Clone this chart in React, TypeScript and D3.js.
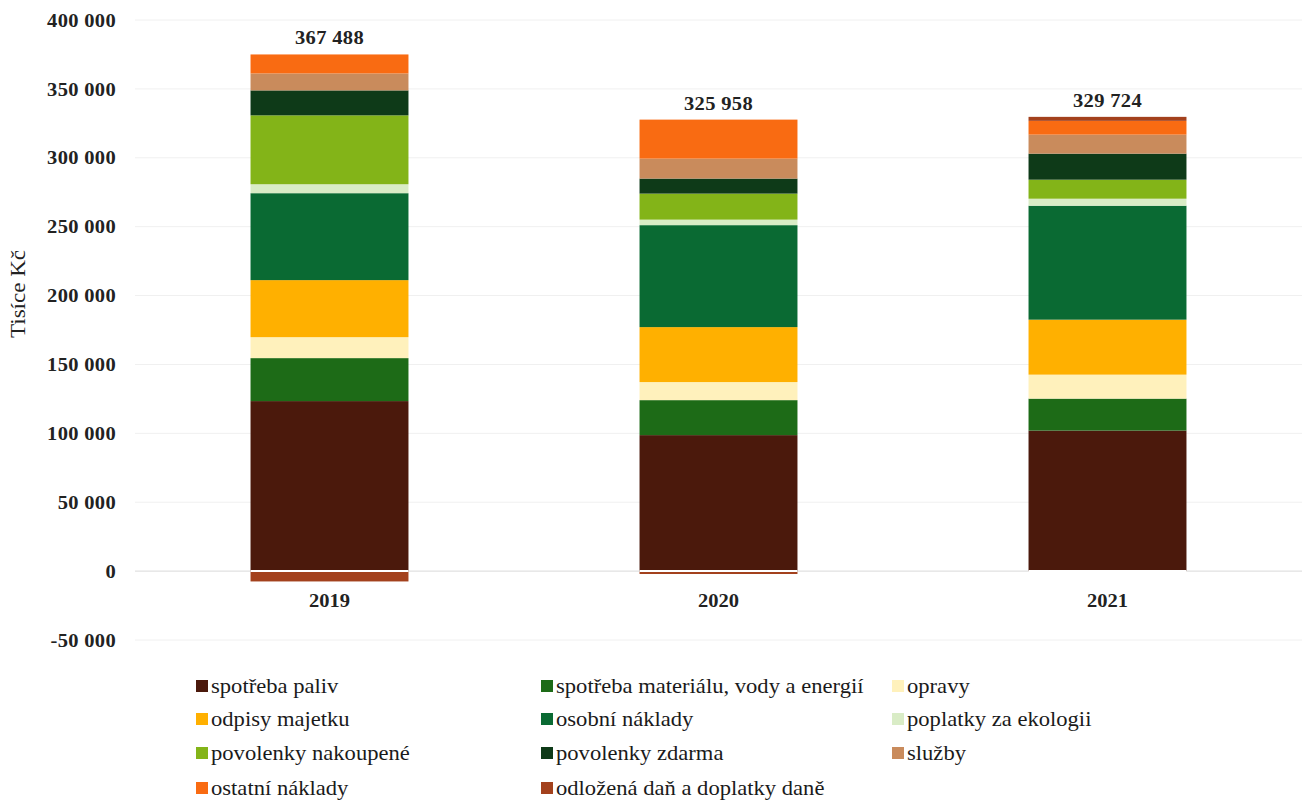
import React from "react";
import * as d3 from "d3";

const years = ["2019", "2020", "2021"];
const seriesNames = [
  "spotřeba paliv",
  "spotřeba materiálu, vody a energií",
  "opravy",
  "odpisy majetku",
  "osobní náklady",
  "poplatky za ekologii",
  "povolenky nakoupené",
  "povolenky zdarma",
  "služby",
  "ostatní náklady",
  "odložená daň a doplatky daně",
];
const seriesColors = [
  "#4b190c",
  "#1d6b17",
  "#fff1bc",
  "#ffb000",
  "#0a6a33",
  "#d9ecc6",
  "#83b418",
  "#0e3a18",
  "#c98b5c",
  "#f96b12",
  "#a3411d",
];
const spotrebaPaliv = [123400, 98700, 102000];
const spotrebaMaterialu = [31200, 25400, 23200];
const opravy = [15200, 13100, 17400];
const odpisyMajetku = [41400, 39900, 39900];
const osobniNaklady = [63100, 74000, 82700];
const poplatkyZaEkologii = [6500, 4000, 5100];
const povolenkyNakoupene = [50000, 18900, 13800];
const povolenkyZdarma = [18100, 10900, 18900];
const sluzby = [12300, 14500, 13800];
const ostatniNaklady = [13800, 28300, 10000];
const odlozenaDan = [-7500, -2100, 2900];
const totalLabels = ["367 488", "325 958", "329 724"];
const tickValues = [-50000, 0, 50000, 100000, 150000, 200000, 250000, 300000, 350000, 400000];

const allSeries = [
  spotrebaPaliv,
  spotrebaMaterialu,
  opravy,
  odpisyMajetku,
  osobniNaklady,
  poplatkyZaEkologii,
  povolenkyNakoupene,
  povolenkyZdarma,
  sluzby,
  ostatniNaklady,
  odlozenaDan,
];

const W = 1306;
const H = 802;
const FONT = "Liberation Serif, Times New Roman, serif";

export default function App() {
  const rows = years.map((y, i) => {
    const r: Record<string, number | string> = { year: y };
    seriesNames.forEach((s, k) => (r[s] = allSeries[k][i]));
    return r;
  });
  const stack = d3
    .stack<Record<string, number | string>>()
    .keys(seriesNames)
    .value((d, k) => d[k] as number)
    .offset(d3.stackOffsetDiverging);
  const layers = stack(rows);

  const x = d3.scaleBand<string>().domain(years).range([135, 1302]).paddingInner(0.594).paddingOuter(0.297);
  const y = d3.scaleLinear().domain([-50000, 400000]).range([640, 20]);
  const fmt = (v: number) => d3.format(",")(v).replace(/,/g, " ").replace("−", "-");

  const tops = years.map((_, i) => d3.max(layers, (l) => l[i][1]) as number);

  const legendCols = [202, 547, 898];
  const legendRows = [686, 719, 753, 788];

  return (
    <svg
      width={W}
      height={H}
      style={{ position: "absolute", left: 0, top: 0, background: "#fff", fontFamily: FONT }}
    >
      <rect width={W} height={H} fill="#fff" />
      {tickValues.map((t) => (
        <g key={t}>
          <line x1={135} x2={1302} y1={y(t)} y2={y(t)} stroke={t === 0 ? "#d9d9d9" : "#f0f0f0"} strokeWidth={1} />
          <text
            transform={`translate(116,${y(t)}) scale(1.08,1)`}
            dy="0.35em"
            textAnchor="end"
            style={{ fontFamily: FONT, fontWeight: "bold", fontSize: 19, letterSpacing: "0.3px" }}
            fill="#222"
          >
            {fmt(t)}
          </text>
        </g>
      ))}
      <text
        transform={`translate(25,294) rotate(-90) scale(1.15,1)`}
        textAnchor="middle"
        style={{ fontFamily: FONT, fontSize: 20 }}
        fill="#222"
      >
        Tisíce Kč
      </text>
      {layers.map((layer, k) => (
        <g key={layer.key} fill={seriesColors[k]}>
          {layer.map((d, i) => {
            const y0 = y(d[0]);
            const y1 = y(d[1]);
            return (
              <rect
                key={i}
                x={x(years[i])}
                width={x.bandwidth()}
                y={Math.min(y0, y1)}
                height={Math.abs(y0 - y1)}
              />
            );
          })}
        </g>
      ))}
      {years.map((yr, i) => (
        <g key={yr}>
          <line
            x1={x(yr)}
            x2={(x(yr) as number) + x.bandwidth()}
            y1={y(0)}
            y2={y(0)}
            stroke="#ffffff"
            strokeWidth={2}
          />
          <text
            transform={`translate(${(x(yr) as number) + x.bandwidth() / 2},${y(tops[i]) - 10}) scale(1.08,1)`}
            textAnchor="middle"
            style={{ fontFamily: FONT, fontWeight: "bold", fontSize: 19, letterSpacing: "0.3px" }}
            fill="#222"
          >
            {totalLabels[i]}
          </text>
          <text
            transform={`translate(${(x(yr) as number) + x.bandwidth() / 2},607) scale(1.08,1)`}
            textAnchor="middle"
            style={{ fontFamily: FONT, fontWeight: "bold", fontSize: 19 }}
            fill="#222"
          >
            {yr}
          </text>
        </g>
      ))}
      {seriesNames.map((s, k) => {
        const cx = legendCols[k % 3];
        const cy = legendRows[Math.floor(k / 3)];
        return (
          <g key={s}>
            <rect x={cx - 6} y={cy - 6} width={12} height={12} fill={seriesColors[k]} />
            <text
              transform={`translate(${cx + 9},${cy}) scale(1.13,1)`}
              dy="0.35em"
              style={{ fontFamily: FONT, fontSize: 20 }}
              fill="#1a1a1a"
            >
              {s}
            </text>
          </g>
        );
      })}
    </svg>
  );
}
